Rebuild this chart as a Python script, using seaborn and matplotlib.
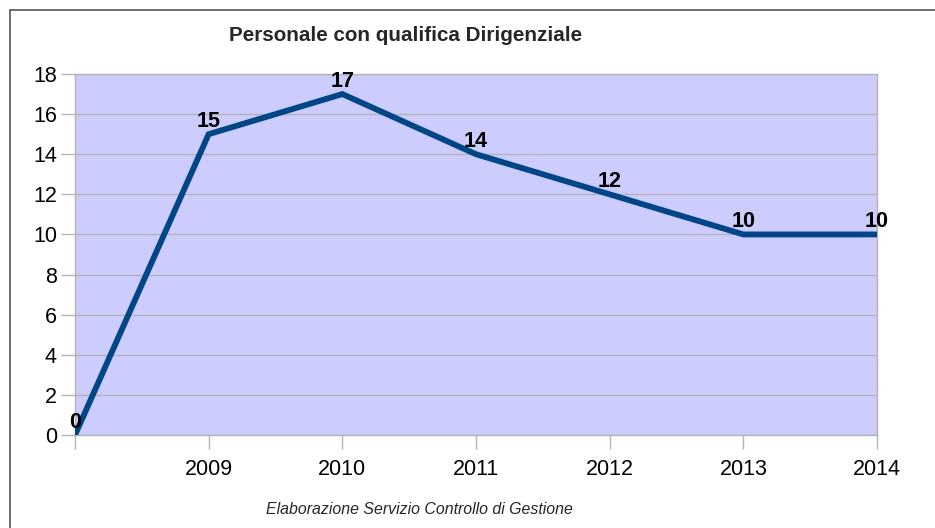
import matplotlib
matplotlib.use("Agg")
import matplotlib.pyplot as plt
from matplotlib.lines import Line2D
import seaborn as sns
import pandas as pd

categories = ["", "2009", "2010", "2011", "2012", "2013", "2014"]
values = [0, 15, 17, 14, 12, 10, 10]
title = "Personale con qualifica Dirigenziale"
caption = "Elaborazione Servizio Controllo di Gestione"

sns.set_style("white")
plt.rcParams['font.family'] = ['Liberation Sans', 'DejaVu Sans']

df = pd.DataFrame({"pos": range(len(categories)), "val": values})

fig = plt.figure(figsize=(9.35, 5.28), dpi=100)
ax = fig.add_axes([75/935, 1-435/528, (877-75)/935, (435-74)/528])
ax.set_facecolor("#ccccff")

sns.lineplot(data=df, x="pos", y="val", ax=ax, color="#004586", linewidth=4.2,
             solid_joinstyle="miter", zorder=3)

for x, v in zip(df["pos"], df["val"]):
    ax.annotate(str(v), (x, v), xytext=(0, 1.5), textcoords="offset points",
                ha="center", va="bottom", fontsize=15.5, fontweight="bold",
                color="black", zorder=4)

ax.set_xlim(0, len(categories) - 1)
ax.set_ylim(0, 18)
ax.set_xticks(range(len(categories)))
ax.set_xticklabels(categories)
ax.set_yticks(range(0, 19, 2))
ax.grid(axis="y", color="#b3b3b3", linewidth=1)
ax.set_axisbelow(True)
ax.tick_params(axis="both", which="both", length=10, width=1, color="#b3b3b3",
               labelsize=15.5, labelcolor="black", direction="out")
ax.tick_params(axis="x", pad=7)
ax.tick_params(axis="y", pad=3)
ax.xaxis.set_ticks_position("bottom")
ax.yaxis.set_ticks_position("left")
for s in ax.spines.values():
    s.set_color("#b3b3b3")
    s.set_linewidth(1)
ax.set_xlabel("")
ax.set_ylabel("")

fig.text(406/935, 1-35.5/528, title, ha="center", va="center", fontsize=14.9,
         fontweight="bold")
fig.text(419/935, 1-509/528, caption, ha="center", va="center", fontsize=11.4,
         fontstyle="italic")

fig.add_artist(Line2D([10/935, 10/935], [0, 1-9.5/528], transform=fig.transFigure,
                      color="#555555", linewidth=1.2))
fig.add_artist(Line2D([10/935, 1], [1-9.5/528, 1-9.5/528], transform=fig.transFigure,
                      color="#555555", linewidth=1.2))

fig.savefig("out.png", dpi=100)
